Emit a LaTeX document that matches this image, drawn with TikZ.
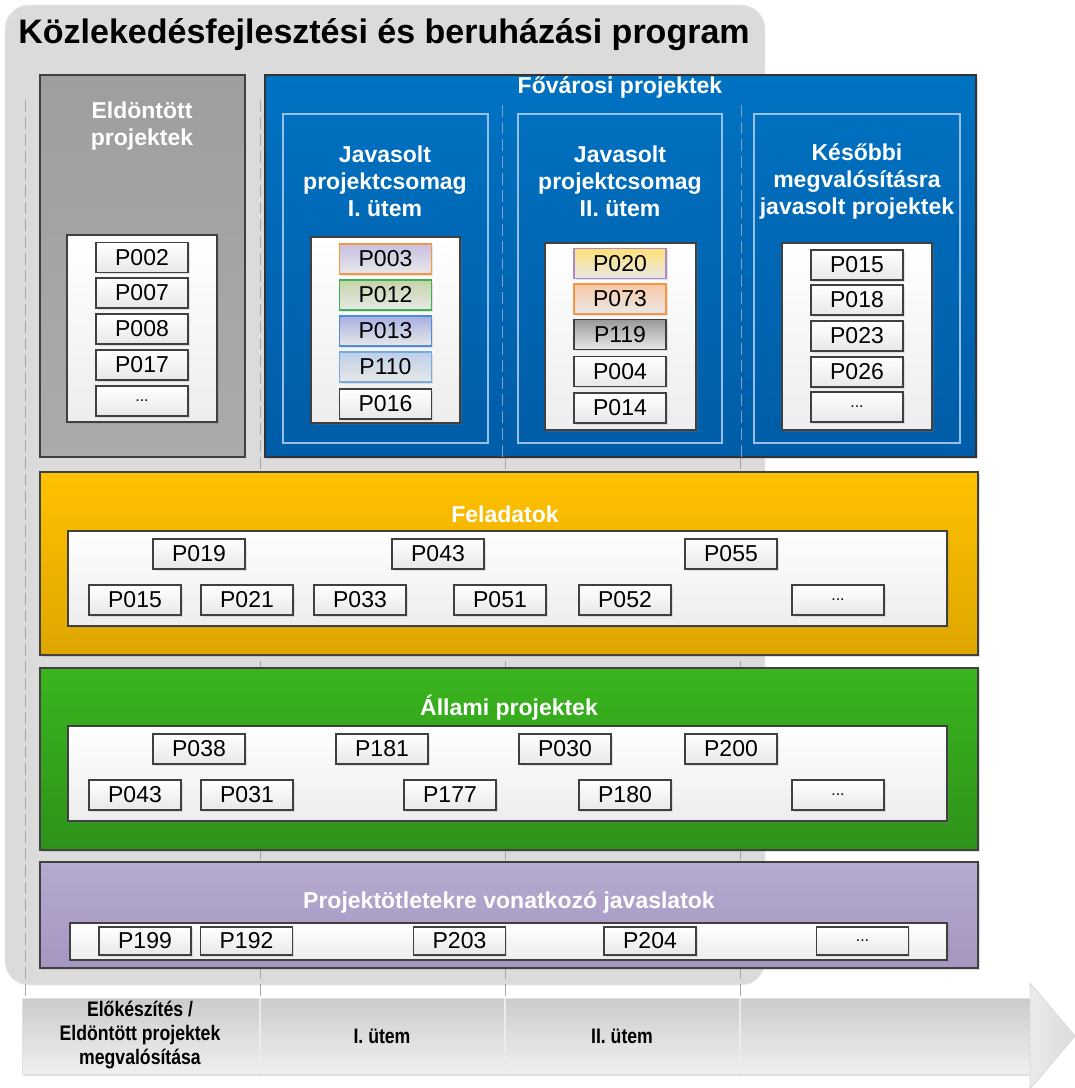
\documentclass[tikz,border=0pt]{standalone}
\usepackage{fontspec}
\setmainfont{Liberation Sans}
\newfontfamily\keskeny[FakeStretch=0.84]{Liberation Sans}
\usepackage{color}
\usetikzlibrary{shadows}

\definecolor{kekfelso}{RGB}{0,114,194}
\definecolor{kekalso}{RGB}{0,92,166}
\definecolor{kekkeret}{RGB}{150,192,232}
\definecolor{kekszagg}{RGB}{130,160,200}
\definecolor{sargafelso}{RGB}{255,193,0}
\definecolor{sargaalso}{RGB}{222,166,0}
\definecolor{zoldfelso}{RGB}{58,181,30}
\definecolor{zoldalso}{RGB}{45,146,26}
\definecolor{lilafelso}{RGB}{182,170,208}
\definecolor{lilaalso}{RGB}{165,150,192}
\definecolor{narancs}{RGB}{245,150,70}
\definecolor{levendula}{RGB}{200,192,226}
\definecolor{zoldkeret}{RGB}{60,178,80}
\definecolor{zoldhalvany}{RGB}{196,212,168}
\definecolor{kekkod}{RGB}{80,140,210}
\definecolor{kekhalvany}{RGB}{166,176,226}
\definecolor{egkeret}{RGB}{120,170,220}
\definecolor{eghalvany}{RGB}{188,208,234}
\definecolor{lilakeret}{RGB}{170,140,200}
\definecolor{sargahalvany}{RGB}{255,224,118}
\definecolor{barack}{RGB}{250,200,164}

\begin{document}
\begin{tikzpicture}[x=0.5pt,y=-0.5pt,
  arnyek/.style={drop shadow={opacity=0.25,shadow xshift=1.2pt,shadow yshift=-1.2pt}},
  pkod/.style={draw=black!75, line width=0.7pt, top color=white, bottom color=black!9,
    minimum width=46pt, minimum height=15pt, font=\fontsize{11.5}{12}\selectfont,
    drop shadow={opacity=0.2,shadow xshift=0.8pt,shadow yshift=-0.8pt}},
  lista/.style={draw=black!75, line width=0.7pt, top color=white, bottom color=black!7, arnyek},
  cim/.style={text=white, align=center, font=\bfseries\fontsize{11.5}{13.5}\selectfont},
  savcim/.style={align=center, font=\keskeny\bfseries\fontsize{10.5}{12}\selectfont},
  pont/.style={font=\fontsize{8}{8}\selectfont}]
\tikzstyle{every node}+=[inner sep=0pt]
\useasboundingbox (0,0) rectangle (1075,1088);

% hatter es cim
\draw [draw=black!8, fill=black!14, rounded corners=12pt] (5,5) rectangle (765,985);
\node [anchor=west, font=\bfseries\fontsize{17}{20}\selectfont] (foCim) at (18,35) {Közlekedésfejlesztési és beruházási program};
\foreach \x in {25,260,505,740}
  \draw [black!35, dash pattern=on 6pt off 2.5pt] (\x,100) -- (\x,997);

% Eldontott projektek
\draw [draw=black!75, line width=0.7pt, top color=black!38, bottom color=black!33] (40,75) rectangle (245,457);
\node [cim] (eldCim) at (142,126) {Eldöntött\\projektek};
\draw [lista] (67,235) rectangle (217,422);
\node [pkod] (e1) at (142,257.5) {P002};
\node [pkod] (e2) at (142,293) {P007};
\node [pkod] (e3) at (142,329) {P008};
\node [pkod] (e4) at (142,365) {P017};
\node [pkod, pont] (e5) at (142,401) {...};

% Fovarosi projektek
\draw [draw=black!80, line width=0.7pt, top color=kekfelso, bottom color=kekalso, arnyek] (265,75) rectangle (976,457);
\node [cim] (fovCim) at (620,87) {Fővárosi projektek};
\draw [kekszagg, dash pattern=on 6pt off 2.5pt] (502,105) -- (502,457);
\draw [kekszagg, dash pattern=on 6pt off 2.5pt] (741,105) -- (741,457);
\draw [kekkeret, line width=0.8pt] (283,114) rectangle (488,443);
\draw [kekkeret, line width=0.8pt] (518,114) rectangle (722,443);
\draw [kekkeret, line width=0.8pt] (754,114) rectangle (960,443);
\node [cim] (aCim) at (385,181) {Javasolt\\projektcsomag\\I. ütem};
\node [cim] (bCim) at (620,181) {Javasolt\\projektcsomag\\II. ütem};
\node [cim] (cCim) at (857,181) {Későbbi\\megvalósításra\\javasolt projektek};

\draw [lista] (311,237) rectangle (460,423);
\node [pkod, draw=narancs, top color=levendula] (a1) at (385.5,259) {P003};
\node [pkod, draw=zoldkeret, top color=zoldhalvany] (a2) at (385.5,295) {P012};
\node [pkod, draw=kekkod, top color=kekhalvany] (a3) at (385.5,331) {P013};
\node [pkod, draw=egkeret, top color=eghalvany] (a4) at (385.5,367) {P110};
\node [pkod] (a5) at (385.5,404) {P016};

\draw [lista] (545,243) rectangle (696,430);
\node [pkod, draw=lilakeret, top color=sargahalvany] (b1) at (620,263.5) {P020};
\node [pkod, draw=narancs, top color=barack] (b2) at (620,299) {P073};
\node [pkod, top color=black!40] (b3) at (620,334.5) {P119};
\node [pkod] (b4) at (620,371.5) {P004};
\node [pkod] (b5) at (620,408) {P014};

\draw [lista] (782,243) rectangle (932,430);
\node [pkod] (c1) at (857,265) {P015};
\node [pkod] (c2) at (857,300) {P018};
\node [pkod] (c3) at (857,336) {P023};
\node [pkod] (c4) at (857,372) {P026};
\node [pkod, pont] (c5) at (857,407) {...};

% Feladatok
\draw [draw=black!75, line width=0.7pt, top color=sargafelso, bottom color=sargaalso, arnyek] (40,472) rectangle (978,655);
\node [cim] (felCim) at (505,514) {Feladatok};
\draw [lista] (68,531) rectangle (947,626);
\node [pkod] (f1) at (199,554) {P019};
\node [pkod] (f2) at (438,554) {P043};
\node [pkod] (f3) at (731,554) {P055};
\node [pkod] (f4) at (135,600) {P015};
\node [pkod] (f5) at (247,600) {P021};
\node [pkod] (f6) at (360,600) {P033};
\node [pkod] (f7) at (500,600) {P051};
\node [pkod] (f8) at (625,600) {P052};
\node [pkod, pont] (f9) at (838,600) {...};

% Allami projektek
\draw [draw=black!75, line width=0.7pt, top color=zoldfelso, bottom color=zoldalso, arnyek] (40,668) rectangle (978,850);
\node [cim] (allCim) at (509,708) {Állami projektek};
\draw [lista] (68,726) rectangle (947,821);
\node [pkod] (g1) at (199,749) {P038};
\node [pkod] (g2) at (382,749) {P181};
\node [pkod] (g3) at (565,749) {P030};
\node [pkod] (g4) at (731,749) {P200};
\node [pkod] (g5) at (135,795) {P043};
\node [pkod] (g6) at (247,795) {P031};
\node [pkod] (g7) at (450,795) {P177};
\node [pkod] (g8) at (625,795) {P180};
\node [pkod, pont] (g9) at (838,795) {...};

% Projektotletek
\draw [draw=black!75, line width=0.7pt, top color=lilafelso, bottom color=lilaalso, arnyek] (40,862) rectangle (978,968);
\node [cim] (javCim) at (509,902) {Projektötletekre vonatkozó javaslatok};
\draw [lista] (70,923) rectangle (947,960);
\node [pkod, minimum height=14pt] (h1) at (145,941) {P199};
\node [pkod, minimum height=14pt] (h2) at (246.5,941) {P192};
\node [pkod, minimum height=14pt] (h3) at (459.5,941) {P203};
\node [pkod, minimum height=14pt] (h4) at (650,941) {P204};
\node [pkod, pont, minimum height=14pt] (h5) at (862.5,941) {...};

% idosav nyillal
\draw [draw=black!12, top color=black!20, bottom color=black!6, arnyek] (22,998) rectangle (1032,1074);
\draw [draw=black!15, left color=black!8, right color=black!14] (1030,983) -- (1075,1036) -- (1030,1089) -- cycle;
\foreach \x in {260,505,740}
  \draw [black!8, line width=1pt] (\x,998) -- (\x,1074);
\node [savcim] (elo) at (140,1035) {Előkészítés /\\Eldöntött projektek\\megvalósítása};
\node [savcim] (utem1) at (382,1036) {I. ütem};
\node [savcim] (utem2) at (622,1036) {II. ütem};
\end{tikzpicture}
\end{document}
